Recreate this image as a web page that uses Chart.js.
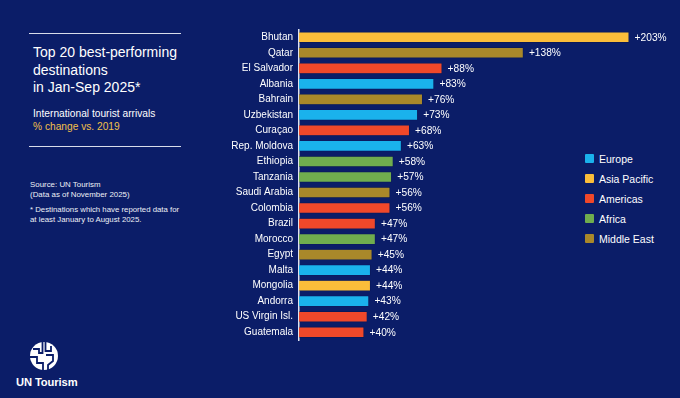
<!DOCTYPE html>
<html>
<head>
<meta charset="utf-8">
<script src="https://cdn.jsdelivr.net/npm/chart.js@4"></script>
<style>
  html,body{margin:0;padding:0;}
  body{width:680px;height:398px;background:#0b1d68;position:relative;overflow:hidden;font-family:"Liberation Sans",Arial,sans-serif;color:#fff;}
  .rule{position:absolute;left:29px;width:152px;height:0;border-top:1.3px solid #d8dcea;}
  .title{position:absolute;left:33px;top:44px;font-size:14px;line-height:17.6px;}
  .sub{position:absolute;left:33px;top:108px;font-size:10.2px;line-height:12.6px;}
  .sub .gold{color:#f2c04a;}
  .src{position:absolute;left:30px;top:180px;font-size:7.9px;line-height:9.6px;color:#eef0f6;}
  .foot{position:absolute;left:30px;top:205px;font-size:7.8px;line-height:9.6px;color:#eef0f6;}
  .legend{position:absolute;left:584px;top:151px;font-size:10.5px;}
  .legend div{height:20px;line-height:16px;position:relative;padding-left:15px;}
  .legend span.sw{position:absolute;left:1px;top:3px;width:9px;height:9px;border-radius:1px;}
  .logo{position:absolute;left:29px;top:341px;}
  .logotext{position:absolute;left:16px;top:376px;font-size:11.2px;font-weight:bold;letter-spacing:-0.1px;}
  #wrap{position:absolute;left:180px;top:0;width:500px;height:398px;}
</style>
</head>
<body>
<div class="rule" style="top:33px"></div>
<div class="title">Top 20 best-performing<br>destinations<br>in Jan-Sep 2025*</div>
<div class="sub">International tourist arrivals<br><span class="gold">% change vs. 2019</span></div>
<div class="rule" style="top:146px"></div>
<div class="src">Source: UN Tourism<br>(Data as of November 2025)</div>
<div class="foot">* Destinations which have reported data for<br>at least January to August 2025.</div>
<div class="legend" id="legend"></div>
<svg class="logo" width="30" height="30" viewBox="0 0 30 30">
  <circle cx="15" cy="15" r="14" fill="#ffffff"/>
  <path d="M13.5 1 L13.5 12 L10 12 L10 8 L4 8" stroke="#0b1d68" stroke-width="1.8" fill="none"/>
  <path d="M16.5 1 L16.5 10 L22 10 L22 5" stroke="#0b1d68" stroke-width="1.8" fill="none"/>
  <path d="M1 16 L8 16 L8 22 L14 22 L14 29" stroke="#0b1d68" stroke-width="1.8" fill="none"/>
  <path d="M17 14 L24 14 L24 20 L19 24 L19 29" stroke="#0b1d68" stroke-width="1.8" fill="none"/>
</svg>
<div class="logotext">UN Tourism</div>
<div id="wrap"><canvas id="c" width="500" height="398"></canvas></div>
<script>
const destinations = ["Bhutan","Qatar","El Salvador","Albania","Bahrain","Uzbekistan","Curaçao","Rep. Moldova","Ethiopia","Tanzania","Saudi Arabia","Colombia","Brazil","Morocco","Egypt","Malta","Mongolia","Andorra","US Virgin Isl.","Guatemala"];
const changeVs2019 = [203,138,88,83,76,73,68,63,58,57,56,56,47,47,45,44,44,43,42,40];
const regionOf = ["Asia Pacific","Middle East","Americas","Europe","Middle East","Europe","Americas","Europe","Africa","Africa","Middle East","Americas","Americas","Africa","Middle East","Europe","Asia Pacific","Europe","Americas","Americas"];
const regions = ["Europe","Asia Pacific","Americas","Africa","Middle East"];
const regionColors = {"Europe":"#1ab2ec","Asia Pacific":"#fbbd3a","Americas":"#f0482a","Africa":"#70ad4e","Middle East":"#a9882a"};

const lg = document.getElementById('legend');
regions.forEach(r=>{
  const d=document.createElement('div');
  d.innerHTML='<span class="sw" style="background:'+regionColors[r]+'"></span>'+r;
  lg.appendChild(d);
});

const labelPlugin = {
  id:'valueLabels',
  afterDatasetsDraw(chart){
    const ctx=chart.ctx;
    const meta=chart.getDatasetMeta(0);
    ctx.save();
    ctx.fillStyle='#ffffff';
    ctx.font='10.2px "Liberation Sans", Arial, sans-serif';
    ctx.textBaseline='middle';
    ctx.textAlign='left';
    meta.data.forEach((bar,i)=>{
      ctx.fillText('+'+changeVs2019[i]+'%', bar.x+5.5, bar.y+0.5);
    });
    ctx.restore();
  }
};

new Chart(document.getElementById('c'),{
  type:'bar',
  data:{
    labels:destinations,
    datasets:[{
      data:changeVs2019,
      backgroundColor:regionOf.map(r=>regionColors[r]),
      borderColor:'rgba(10,20,60,0.6)',
      borderWidth:0.6,
      barPercentage:0.7,
      categoryPercentage:1.0
    }]
  },
  options:{
    indexAxis:'y',
    responsive:false,
    animation:false,
    layout:{padding:{top:29.5,bottom:58,right:20,left:0}},
    plugins:{legend:{display:false},tooltip:{enabled:false}},
    scales:{
      x:{display:false,min:0,max:222},
      y:{
        afterFit(s){s.width=119;},
        grid:{display:false,drawTicks:false},
        border:{display:true,color:'#dfe3ef',width:1.5},
        ticks:{color:'#ffffff',padding:6,font:{family:'"Liberation Sans", Arial, sans-serif',size:10}}
      }
    }
  },
  plugins:[labelPlugin]
});
</script>
</body>
</html>
